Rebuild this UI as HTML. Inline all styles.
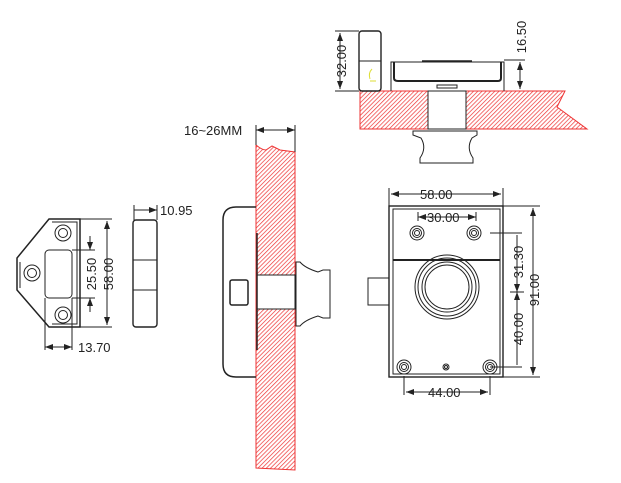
<!DOCTYPE html>
<html><head><meta charset="utf-8"><style>
html,body{margin:0;padding:0;background:#fff;}
svg{display:block;}
text{font-family:"Liberation Sans",sans-serif;font-size:13px;fill:#222;}
</style></head><body>
<svg width="621" height="483" viewBox="0 0 621 483" xmlns="http://www.w3.org/2000/svg">
<defs>
<pattern id="h" width="3" height="3" patternUnits="userSpaceOnUse" patternTransform="rotate(45)">
<rect width="3" height="3" fill="#fff"/><line x1="0" y1="0" x2="0" y2="3" stroke="#e33" stroke-width="1.4"/>
</pattern>
<marker id="a" markerWidth="8" markerHeight="6" refX="8" refY="3" orient="auto-start-reverse" markerUnits="userSpaceOnUse"><path d="M0,0 L8,3 L0,6z" fill="#222"/></marker>
</defs>
<g stroke="#222" fill="none" stroke-width="1">
<path d="M49,219 L80,219 L80,327 L49,327 L17,290 L17,258 Z" stroke-width="1.5"/>
<path d="M52,222 L77,222 L77,324 L52,324" />
<line x1="20" y1="262" x2="20" y2="288"/>
<rect x="45" y="250" width="27" height="48" rx="4"/>
<circle cx="63" cy="233" r="8"/><circle cx="63" cy="233" r="4.5"/>
<circle cx="32" cy="273" r="8"/><circle cx="32" cy="273" r="4.5"/>
<circle cx="63" cy="315" r="8"/><circle cx="63" cy="315" r="4.5"/>
<line x1="80" y1="219" x2="112" y2="219"/><line x1="80" y1="327" x2="112" y2="327"/>
<line x1="107" y1="221" x2="107" y2="325" marker-start="url(#a)" marker-end="url(#a)"/>
<line x1="72" y1="250" x2="95" y2="250"/><line x1="72" y1="298" x2="95" y2="298"/>
<line x1="90" y1="236" x2="90" y2="250" marker-end="url(#a)"/><line x1="90" y1="312" x2="90" y2="298" marker-end="url(#a)"/>
<line x1="45" y1="298" x2="45" y2="350"/><line x1="72" y1="298" x2="72" y2="350"/>
<line x1="45" y1="347" x2="72" y2="347" marker-start="url(#a)" marker-end="url(#a)"/>
<rect x="133" y="220" width="24" height="107" rx="3" stroke-width="1.4"/>
<line x1="133" y1="260" x2="157" y2="260"/><line x1="133" y1="290" x2="157" y2="290"/>
<line x1="134" y1="205" x2="134" y2="220"/><line x1="157" y1="205" x2="157" y2="220"/>
<line x1="134" y1="210" x2="157" y2="210" marker-end="url(#a)"/>
<path d="M256,145 Q262,150 266,150 L272,146 L280,150 L295,152 L295,470 L256,468 Z" fill="url(#h)" stroke="#e33"/>
<rect x="257" y="275" width="38" height="34" fill="#fff" stroke="#222"/>
<path d="M256,207 L236,207 Q223,207 223,220 L223,364 Q223,377 236,377 L256,377" stroke-width="1.5"/>
<line x1="257" y1="233" x2="257" y2="350" stroke-width="1.5"/>
<rect x="230" y="280" width="18" height="25" rx="2" stroke-width="1.5"/>
<path d="M296,262 L300,262 Q305,268 318,272 L323,270 L330,270 L330,318 L323,318 L318,316 Q305,320 300,326 L296,326 Z" fill="#fff"/>
<line x1="256" y1="125" x2="256" y2="145"/><line x1="295" y1="125" x2="295" y2="152"/>
<line x1="256" y1="130" x2="295" y2="130" marker-start="url(#a)" marker-end="url(#a)"/>
<path d="M360,91 L565,91 L557,107 L587,129 L360,129 Z" fill="url(#h)" stroke="#e33"/>
<rect x="428" y="91" width="38" height="38" fill="#fff" stroke="#222"/>
<path d="M413,131 L477,131 L477,135 L472,138 Q466,148 473,158 L473,163 L420,163 L420,158 Q427,148 421,138 L413,135 Z" fill="#fff"/>
<rect x="359" y="31" width="22" height="60" rx="3" stroke-width="1.4"/><line x1="359" y1="61" x2="381" y2="61"/>
<path d="M391,91 L391,62 L504,62 L504,91" />
<path d="M394,62 L394,78 Q394,81 398,81 L498,81 Q501,81 501,78 L501,62" stroke-width="2"/>
<line x1="422" y1="61" x2="472" y2="61" stroke-width="1.5"/>
<rect x="437" y="85" width="20" height="3"/>
<line x1="335" y1="31" x2="359" y2="31"/><line x1="335" y1="91" x2="359" y2="91"/>
<line x1="340" y1="33" x2="340" y2="89" marker-start="url(#a)" marker-end="url(#a)"/>
<line x1="504" y1="60" x2="525" y2="60"/>
<line x1="520" y1="62" x2="520" y2="89" marker-start="url(#a)" marker-end="url(#a)"/>
<rect x="389" y="206" width="114" height="171" stroke-width="1.4"/>
<rect x="393" y="209" width="107" height="165"/>
<line x1="393" y1="260" x2="500" y2="260" stroke-width="2"/>
<rect x="368" y="278" width="21" height="27"/>
<circle cx="447" cy="287" r="32"/><circle cx="447" cy="287" r="29"/><circle cx="447" cy="287" r="25"/><circle cx="447" cy="287" r="22"/>
<circle cx="417" cy="233" r="7"/><circle cx="417" cy="233" r="4.5"/><circle cx="417" cy="233" r="2.5"/>
<circle cx="474" cy="233" r="7"/><circle cx="474" cy="233" r="4.5"/><circle cx="474" cy="233" r="2.5"/>
<circle cx="404" cy="367" r="7"/><circle cx="404" cy="367" r="4.5"/><circle cx="404" cy="367" r="2.5"/>
<circle cx="490" cy="367" r="7"/><circle cx="490" cy="367" r="4.5"/><circle cx="490" cy="367" r="2.5"/>
<circle cx="446" cy="367" r="3"/><circle cx="446" cy="367" r="1.5"/>
<line x1="389" y1="188" x2="389" y2="206"/><line x1="503" y1="188" x2="503" y2="206"/>
<line x1="391" y1="194" x2="501" y2="194" marker-start="url(#a)" marker-end="url(#a)"/>
<line x1="418" y1="212" x2="418" y2="221"/><line x1="476" y1="212" x2="476" y2="221"/>
<line x1="418" y1="217" x2="476" y2="217" marker-start="url(#a)" marker-end="url(#a)"/>
<line x1="404" y1="376" x2="404" y2="395"/><line x1="490" y1="376" x2="490" y2="395"/>
<line x1="406" y1="392" x2="488" y2="392" marker-start="url(#a)" marker-end="url(#a)"/>
<line x1="503" y1="206" x2="540" y2="206"/><line x1="503" y1="377" x2="540" y2="377"/>
<line x1="533" y1="208" x2="533" y2="375" marker-start="url(#a)" marker-end="url(#a)"/>
<line x1="490" y1="233" x2="522" y2="233"/><line x1="490" y1="367" x2="522" y2="367"/>
<line x1="510" y1="292" x2="524" y2="292"/>
<line x1="517" y1="235" x2="517" y2="292" marker-end="url(#a)"/>
<line x1="517" y1="365" x2="517" y2="292" marker-end="url(#a)"/>
</g>
<path d="M372,69 q-4,4 -2,10 M370,81 l6,0" stroke="#dd3" fill="none"/>
<text x="78" y="352">13.70</text>
<text x="160" y="215">10.95</text>
<text x="184" y="135">16~26MM</text>
<text x="420" y="199">58.00</text>
<text x="427" y="222">30.00</text>
<text x="428" y="397">44.00</text>
<text transform="translate(96,274) rotate(-90)" text-anchor="middle">25.50</text>
<text transform="translate(113,274) rotate(-90)" text-anchor="middle">58.00</text>
<text transform="translate(346,61) rotate(-90)" text-anchor="middle">32.00</text>
<text transform="translate(526,37) rotate(-90)" text-anchor="middle">16.50</text>
<text transform="translate(539,290) rotate(-90)" text-anchor="middle">91.00</text>
<text transform="translate(523,262) rotate(-90)" text-anchor="middle">31.30</text>
<text transform="translate(523,329) rotate(-90)" text-anchor="middle">40.00</text>
</svg>
</body></html>
